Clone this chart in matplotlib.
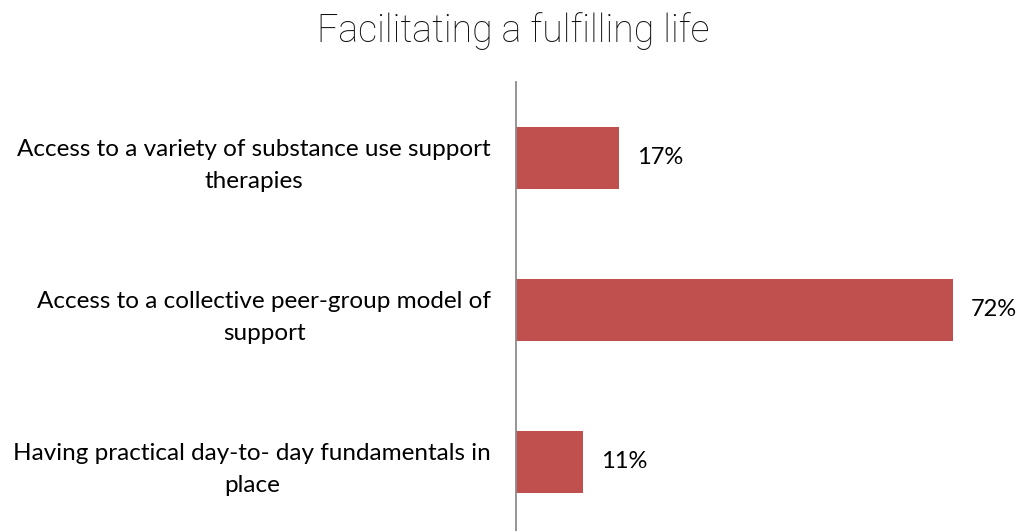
import matplotlib.pyplot as plt

categories = ["Access to a variety of substance use support\ntherapies",
              "Access to a collective peer-group model of\nsupport",
              "Having practical day-to- day fundamentals in\nplace"]
values = [17, 72, 11]
title = "Facilitating a fulfilling life"

W, H = 1020, 531
fig = plt.figure(figsize=(W / 100, H / 100), dpi=100)
# axes from axis line (x=516) to right edge, from y=82 down to bottom
ax = fig.add_axes([516 / W, 0, (1000 - 516) / W, (H - 82) / H])

ypos = list(range(len(categories)))
ax.barh(ypos, values, height=0.41, color="#C0504D")
ax.set_xlim(0, (1000 - 516) / 6.07)
ax.set_ylim(2.454, -0.5)

for y, v in zip(ypos, values):
    ax.annotate(f"{v}%", (v, y), xytext=(13, 0), textcoords="offset points",
                ha="left", va="center", fontsize=17, family="Lato")

ax.set_yticks(ypos)
ax.set_yticklabels(categories, fontsize=17.5, family="Lato",
                   multialignment="center", linespacing=1.65)
ax.tick_params(axis="y", length=0, pad=18)
ax.set_xticks([])
for s in ["top", "right", "bottom"]:
    ax.spines[s].set_visible(False)
ax.spines["left"].set_color("#8C8C8C")
ax.spines["left"].set_linewidth(1.3)

fig.text(513 / W, 1 - 31 / H, title, ha="center", va="center", fontsize=27,
         family="Roboto", fontweight="light", color="#111111")

fig.savefig("out.png", dpi=100)
